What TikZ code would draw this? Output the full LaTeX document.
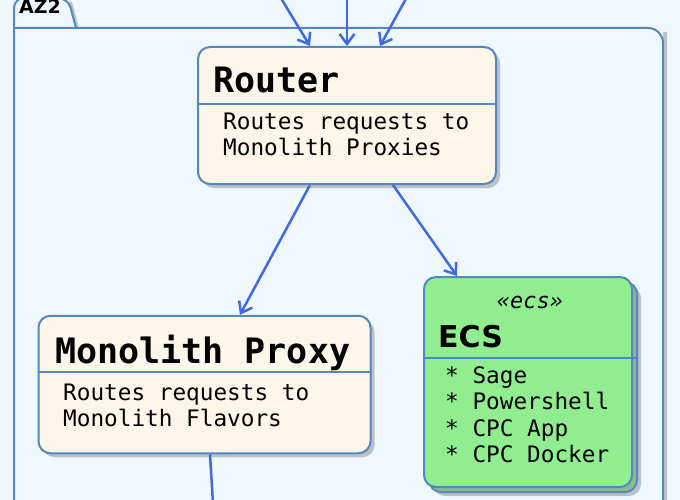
\documentclass[tikz,border=0pt]{standalone}
\usepackage{fontspec}
\setmainfont{DejaVu Sans}
\newfontfamily\monofont{DejaVu Sans Mono}
\usetikzlibrary{arrows.meta,shadows}

\definecolor{pagebg}{RGB}{240,248,255}
\definecolor{boxfill}{RGB}{254,246,232}
\definecolor{boxline}{RGB}{86,136,192}
\definecolor{flowblue}{RGB}{65,105,225}
\definecolor{ecsgreen}{RGB}{144,238,144}

\begin{document}
\begin{tikzpicture}
      [x=1pt, y=-1pt,
       comp node/.style={rectangle, rounded corners=12pt, draw=boxline, line width=2pt,
         fill=boxfill, drop shadow={shadow xshift=4pt, shadow yshift=-4pt, opacity=0.45}},
       ecs node/.style={comp node, fill=ecsgreen},
       title/.style={anchor=base west, inner sep=0, font=\monofont\bfseries\fontsize{35}{35}\selectfont},
       body/.style={anchor=base west, inner sep=0, font=\monofont\fontsize{22.7}{26}\selectfont},
       divider/.style={draw=boxline, line width=1.3pt},
       flow/.style={draw=flowblue, line width=2.5pt, -{Straight Barb[length=10pt,width=15pt]}}]
      \useasboundingbox[fill=pagebg] (0,0) rectangle (680,500);
      \clip (0,0) rectangle (680,500);

      % package AZ2
      \path[fill=pagebg, drop shadow={shadow xshift=4pt, shadow yshift=-4pt, opacity=0.45}]
        (14,520) -- (14,-2) -- (68,-2) -- (76,28) -- (663,28) -- (663,520) -- cycle;
      \draw[boxline, line width=2pt, rounded corners=10pt] (14,520) -- (14,-2) -- (68,-2) -- (76,28);
      \draw[boxline, line width=2pt, rounded corners=15pt] (14,28) -- (663,28) -- (663,520);
      \node[anchor=base west, inner sep=0, font=\bfseries\fontsize{19}{19}\selectfont] (az2) at (19,14) {AZ2};

      % components
      \node[comp node, minimum width=298pt, minimum height=137pt] (router) at (347,115.5) {};
      \draw[divider] (router.west |- 0,104) -- (router.east |- 0,104);
      \node[title] (routert) at (213,93) {Router};
      \node[body] (routerb1) at (223,130) {Routes requests to};
      \node[body] (routerb2) at (223,156) {Monolith Proxies};

      \node[comp node, minimum width=332pt, minimum height=137.5pt] (proxy) at (204.5,384.5) {};
      \draw[divider] (proxy.west |- 0,372) -- (proxy.east |- 0,372);
      \node[title] (proxyt) at (55,363) {Monolith Proxy};
      \node[body] (proxyb1) at (63,400) {Routes requests to};
      \node[body] (proxyb2) at (63,426) {Monolith Flavors};

      \node[ecs node, minimum width=208pt, minimum height=210pt] (ecsback) at (533,387) {};
      \node[ecs node, minimum width=208pt, minimum height=210pt, drop shadow={opacity=0}] (ecs) at (528,382) {};
      \draw[divider] (ecs.west |- 0,358) -- (ecsback.east |- 0,358);
      \node[anchor=base, inner sep=0, font=\monofont\itshape\fontsize{22}{22}\selectfont] (ecss) at (530,308) {«ecs»};
      \node[anchor=base west, inner sep=0, font=\bfseries\fontsize{30}{30}\selectfont] (ecst) at (438,347) {ECS};
      \node[body] (ecs1) at (445,383) {* Sage};
      \node[body] (ecs2) at (445,409) {* Powershell};
      \node[body] (ecs3) at (445,436) {* CPC App};
      \node[body] (ecs4) at (445,462) {* CPC Docker};

      % connectors
      \coordinate (in1) at (279,-5);
      \coordinate (in2) at (347,-5);
      \coordinate (in3) at (408,-5);
      \coordinate (out1) at (214,520);
      \draw[flow] (in1) -- ([xshift=-37pt]router.north);
      \draw[flow] (in2) -- (router.north);
      \draw[flow] (in3) -- ([xshift=33pt]router.north);
      \draw[flow] ([xshift=-37pt]router.south) -- ([xshift=35.5pt]proxy.north);
      \draw[flow] ([xshift=46pt]router.south) -- ([xshift=-71pt]ecs.north);
      \draw[draw=flowblue, line width=2.5pt] ([xshift=5.5pt]proxy.south) -- (out1);
   \end{tikzpicture}
\end{document}
